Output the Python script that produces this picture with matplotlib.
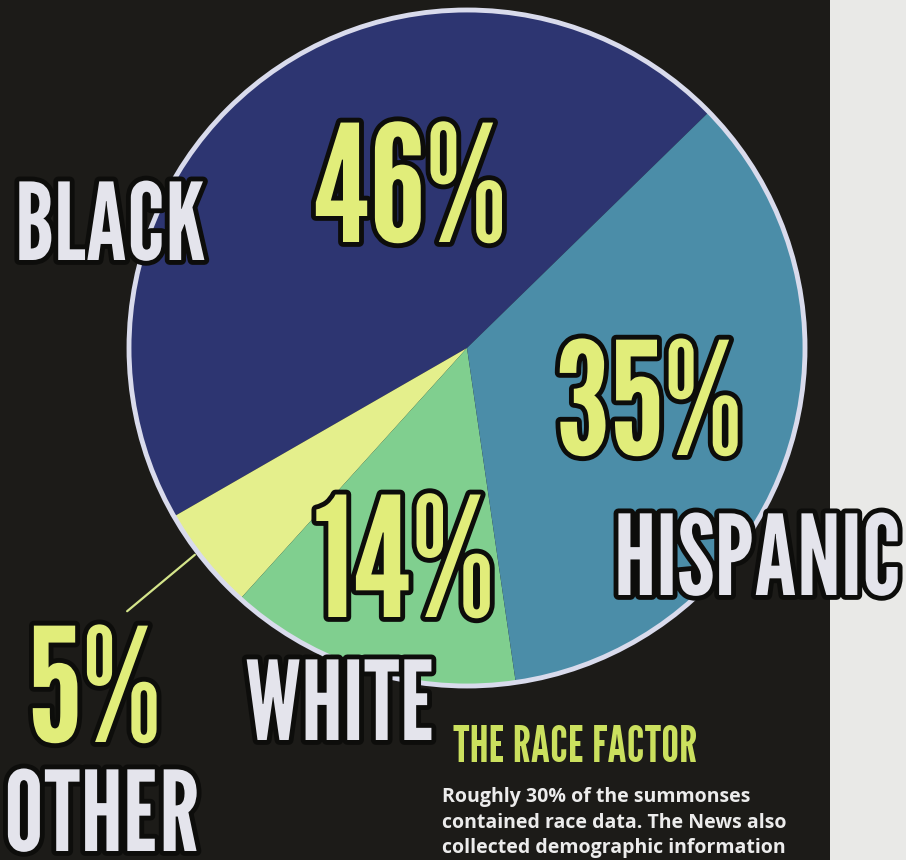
import matplotlib
matplotlib.use('Agg')
import matplotlib.pyplot as plt
import matplotlib.patheffects as pe
from matplotlib import font_manager
from matplotlib.patches import Circle, Rectangle

# data
groups = ['BLACK', 'OTHER', 'WHITE', 'HISPANIC']
shares = [46, 5, 14, 35]
slice_colors = ['#2d3571', '#e4ef8c', '#80cf8f', '#4b8da8']

title = 'THE RACE FACTOR'
note = ['Roughly 30% of the summonses',
        'contained race data. The News also',
        'collected demographic information']

installed = set(f.name for f in font_manager.fontManager.ttflist)
head_font = next((f for f in ['League Gothic', 'Oswald', 'Barlow Condensed', 'DejaVu Sans'] if f in installed))
body_font = next((f for f in ['Open Sans', 'Noto Sans', 'DejaVu Sans'] if f in installed))

W, H = 906, 860
fig = plt.figure(figsize=(W / 100, H / 100), dpi=100)
fig.patch.set_facecolor('#1c1b18')

ax = fig.add_axes([0, 0, 1, 1])
# light page margin on the right
ax.add_patch(Rectangle((830, 0), W - 830, H, facecolor='#e9e9e7', edgecolor='none', zorder=0))

cx, cy, r = 467, H - 348, 338
ax.pie(shares, colors=slice_colors, startangle=44.3, counterclock=True,
       center=(cx, cy), radius=r, wedgeprops=dict(linewidth=0, zorder=1), frame=True)
ax.set_xlim(0, W)
ax.set_ylim(0, H)
ax.set_aspect('equal')
ax.axis('off')
ax.add_patch(Circle((cx, cy), r, fill=False, edgecolor='#d9dbec', linewidth=3.5, zorder=3))

stroke = [pe.withStroke(linewidth=7, foreground='#0d0d0b')]
pct_color = '#e1ed7a'
lab_color = '#e4e4ec'

def big(x, y, s, size, color):
    # y measured from the top of the picture, text sits on its baseline
    ax.text(x, H - y, s, fontsize=size, color=color, family=head_font,
            ha='left', va='baseline', path_effects=stroke, zorder=5)

pct = {g: f'{v}%' for g, v in zip(groups, shares)}
big(313, 242, pct['BLACK'], 117, pct_color)
big(15, 260, 'BLACK', 77, lab_color)
big(555, 455, pct['HISPANIC'], 113, pct_color)
big(614, 595, 'HISPANIC', 80, lab_color)
big(313, 617, pct['WHITE'], 120, pct_color)
big(28, 742, pct['OTHER'], 114, pct_color)
big(245, 740, 'WHITE', 79, lab_color)
big(4, 851, 'OTHER', 80, lab_color)

# leader line for the small slice
ax.annotate('', xy=(197, H - 553), xytext=(125, H - 613),
            arrowprops=dict(arrowstyle='-', color='#d4e58a', lw=1.6))

ax.text(453, H - 762, title, fontsize=36, color='#cbe05e', family=head_font,
        ha='left', va='baseline', zorder=5)
for i, line in enumerate(note):
    ax.text(442, H - 802 - 25.5 * i, line, fontsize=14, color='#ececec',
            family=body_font, weight='bold', ha='left', va='baseline', zorder=5)

fig.savefig('out.png', dpi=100, facecolor=fig.get_facecolor())
